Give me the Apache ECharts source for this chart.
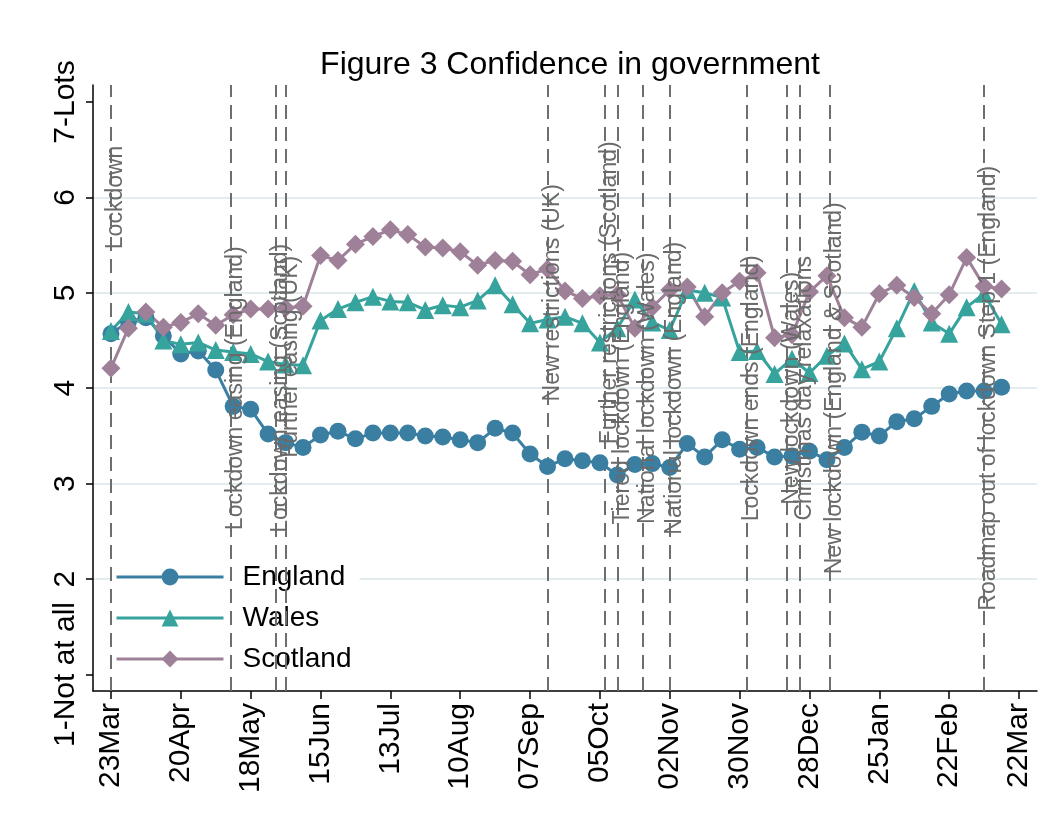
<!DOCTYPE html>
<html><head><meta charset="utf-8">
<script src="https://cdn.jsdelivr.net/npm/echarts@6/dist/echarts.min.js"></script>
<style>html,body{margin:0;padding:0;background:#fff}#c{width:1052px;height:836px}</style>
</head><body><div id="c"></div>
<script>
const weeks = ['2020-03-23','2020-03-30','2020-04-06','2020-04-13','2020-04-20','2020-04-27','2020-05-04','2020-05-11','2020-05-18','2020-05-25',
'2020-06-01','2020-06-08','2020-06-15','2020-06-22','2020-06-29','2020-07-06','2020-07-13','2020-07-20','2020-07-27','2020-08-03',
'2020-08-10','2020-08-17','2020-08-24','2020-08-31','2020-09-07','2020-09-14','2020-09-21','2020-09-28','2020-10-05','2020-10-12',
'2020-10-19','2020-10-26','2020-11-02','2020-11-09','2020-11-16','2020-11-23','2020-11-30','2020-12-07','2020-12-14','2020-12-21',
'2020-12-28','2021-01-04','2021-01-11','2021-01-18','2021-01-25','2021-02-01','2021-02-08','2021-02-15','2021-02-22','2021-03-01',
'2021-03-08','2021-03-15'];
const england = [4.57,4.70,4.74,4.55,4.36,4.39,4.19,3.81,3.78,3.52,
3.43,3.38,3.51,3.55,3.47,3.53,3.53,3.53,3.50,3.49,
3.46,3.43,3.58,3.53,3.31,3.18,3.26,3.24,3.22,3.09,
3.20,3.21,3.17,3.42,3.28,3.46,3.36,3.38,3.28,3.29,
3.34,3.25,3.38,3.54,3.50,3.65,3.68,3.81,3.94,3.97,
3.97,4.01];
const wales = [4.60,4.80,4.78,4.50,4.46,4.48,4.40,4.38,4.36,4.28,
4.25,4.24,4.71,4.83,4.90,4.96,4.91,4.90,4.82,4.87,
4.85,4.92,5.08,4.88,4.68,4.72,4.75,4.68,4.48,4.63,
4.93,4.69,4.61,5.03,5.00,4.95,4.38,4.39,4.15,4.31,
4.16,4.34,4.47,4.20,4.28,4.63,5.02,4.69,4.57,4.85,
4.99,4.67];
const scotland = [4.21,4.63,4.80,4.64,4.69,4.78,4.66,4.77,4.83,4.83,
4.84,4.86,5.39,5.34,5.51,5.59,5.66,5.61,5.48,5.47,
5.43,5.29,5.34,5.33,5.19,5.25,5.02,4.94,4.97,4.98,
4.63,4.85,5.03,5.06,4.75,5.00,5.12,5.21,4.53,4.56,
5.01,5.18,4.74,4.64,4.99,5.08,4.95,4.78,4.98,5.37,
5.07,5.04];
const tickDates = ['2020-03-23','2020-04-20','2020-05-18','2020-06-15','2020-07-13','2020-08-10','2020-09-07',
'2020-10-05','2020-11-02','2020-11-30','2020-12-28','2021-01-25','2021-02-22','2021-03-22'];
const tickLabels = ['23Mar','20Apr','18May','15Jun','13Jul','10Aug','07Sep','05Oct','02Nov','30Nov','28Dec','25Jan','22Feb','22Mar'];
const yTickValues = [1,2,3,4,5,6,7];
const yTickLabels = ['1-Not at all','2','3','4','5','6','7-Lots'];
const gridValues = [2,3,4,5,6];
const eventDates = ['2020-03-23','2020-05-10','2020-05-28','2020-06-01','2020-09-14','2020-10-07','2020-10-12',
'2020-10-22','2020-11-02','2020-12-03','2020-12-19','2020-12-24','2021-01-05','2021-03-08'];
const eventLabels = ['Lockdown','Lockdown easing (England)','Lockdown easing (Scotland)','Further easing (UK)',
'New restrictions (UK)','Further restrictions (Scotland)','Tiered lockdown (England)','National lockdown (Wales)',
'National lockdown (England)','Lockdown ends (England)','New lockdown (Wales)','Christmas day relaxations',
'New lockdown (England & Scotland)','Roadmap out of lockdown Step 1 (England)'];
const eventLabelY = [6,4,4,4.33,5,5,4,4,4,4,4,4,4,4];

const FONT = '"Liberation Sans", Arial, sans-serif';
const t0 = Date.parse(weeks[0]);
const day = d => Math.round((Date.parse(d) - t0) / 864e5);
const tickDays = tickDates.map(day);
const C_ENG = '#3a7fa2', C_WAL = '#36a39d', C_SCO = '#9f8099';

const chart = echarts.init(document.getElementById('c'), null, {renderer: 'canvas'});
chart.setOption({
  animation: false,
  backgroundColor: '#fff',
  title: {
    text: 'Figure 3 Confidence in government',
    left: 565, textAlign: 'center', top: 44,
    textStyle: {fontFamily: FONT, fontSize: 32, fontWeight: 'normal', color: '#000'}
  },
  legend: {
    orient: 'vertical', left: 110, top: 559, itemWidth: 107, itemHeight: 21, itemGap: 13,
    z: 1, backgroundColor: '#fff', padding: [4, 8, 4, 5],
    lineStyle: {width: 3},
    textStyle: {fontFamily: FONT, fontSize: 28, color: '#000', padding: [0, 0, 0, 14]},
    data: [
      {name: 'England', itemStyle: {color: C_ENG}, lineStyle: {color: C_ENG, width: 3}},
      {name: 'Wales', itemStyle: {color: C_WAL}, lineStyle: {color: C_WAL, width: 3}},
      {name: 'Scotland', itemStyle: {color: C_SCO}, lineStyle: {color: C_SCO, width: 3}}
    ]
  },
  grid: {left: 93, right: 15, top: 85, bottom: 145, containLabel: false, outerBoundsMode: 'none'},
  xAxis: {
    type: 'value', min: -7.2, max: 371.2,
    axisLine: {show: true, onZero: false, lineStyle: {color: '#000', width: 1.5}},
    axisTick: {show: true, customValues: tickDays, length: 8, lineStyle: {color: '#000', width: 1.5}},
    axisLabel: {customValues: tickDays, rotate: 90, margin: 12, fontFamily: FONT, fontSize: 30, color: '#000',
      formatter: v => tickLabels[tickDays.indexOf(v)] || ''},
    splitLine: {show: false}
  },
  yAxis: {
    type: 'value', min: 0.827, max: 7.178,
    axisLine: {show: true, onZero: false, lineStyle: {color: '#000', width: 1.5}},
    axisTick: {show: true, customValues: yTickValues, length: 7, lineStyle: {color: '#000', width: 1.5}},
    axisLabel: {customValues: yTickValues, rotate: 90, margin: 12, fontFamily: FONT, fontSize: 30, color: '#000',
      formatter: v => yTickLabels[yTickValues.indexOf(v)] || ''},
    splitLine: {show: false}
  },
  series: [
    {
      name: 'grid', type: 'line', data: [], z: 0, silent: true,
      markLine: {z: 0, silent: true, symbol: 'none', label: {show: false},
        lineStyle: {color: '#e3edf0', width: 2, type: 'solid'},
        data: gridValues.map(v => ({yAxis: v}))}
    },
    {
      name: 'events', type: 'line', data: [], z: 2, silent: true,
      markLine: {z: 2, silent: true, symbol: 'none', label: {show: false},
        lineStyle: {color: '#6e6e6e', width: 2, type: [14, 8]},
        data: eventDates.map(d => ({xAxis: day(d)}))}
    },
    {
      name: 'England', type: 'line', z: 3, symbol: 'circle', symbolSize: 17,
      data: weeks.map((d, i) => [day(d), england[i]]),
      itemStyle: {color: C_ENG}, lineStyle: {color: C_ENG, width: 3}
    },
    {
      name: 'Wales', type: 'line', z: 3, symbol: 'triangle', symbolSize: 18,
      data: weeks.map((d, i) => [day(d), wales[i]]),
      itemStyle: {color: C_WAL}, lineStyle: {color: C_WAL, width: 3}
    },
    {
      name: 'Scotland', type: 'line', z: 3, symbol: 'diamond', symbolSize: 19,
      data: weeks.map((d, i) => [day(d), scotland[i]]),
      itemStyle: {color: C_SCO}, lineStyle: {color: C_SCO, width: 3}
    },
    {
      name: 'eventLabels', type: 'custom', z: 5, silent: true, clip: false,
      data: eventDates.map((d, i) => [day(d), eventLabelY[i], i]),
      renderItem: (params, api) => {
        const p = api.coord([api.value(0), api.value(1)]);
        return {
          type: 'text', x: p[0] + 5, y: p[1], rotation: Math.PI / 2,
          style: {text: eventLabels[api.value(2)], fill: '#6a6a6a',
            font: '23px ' + FONT, align: 'center', verticalAlign: 'middle'}
        };
      }
    }
  ]
});
</script>
</body></html>
